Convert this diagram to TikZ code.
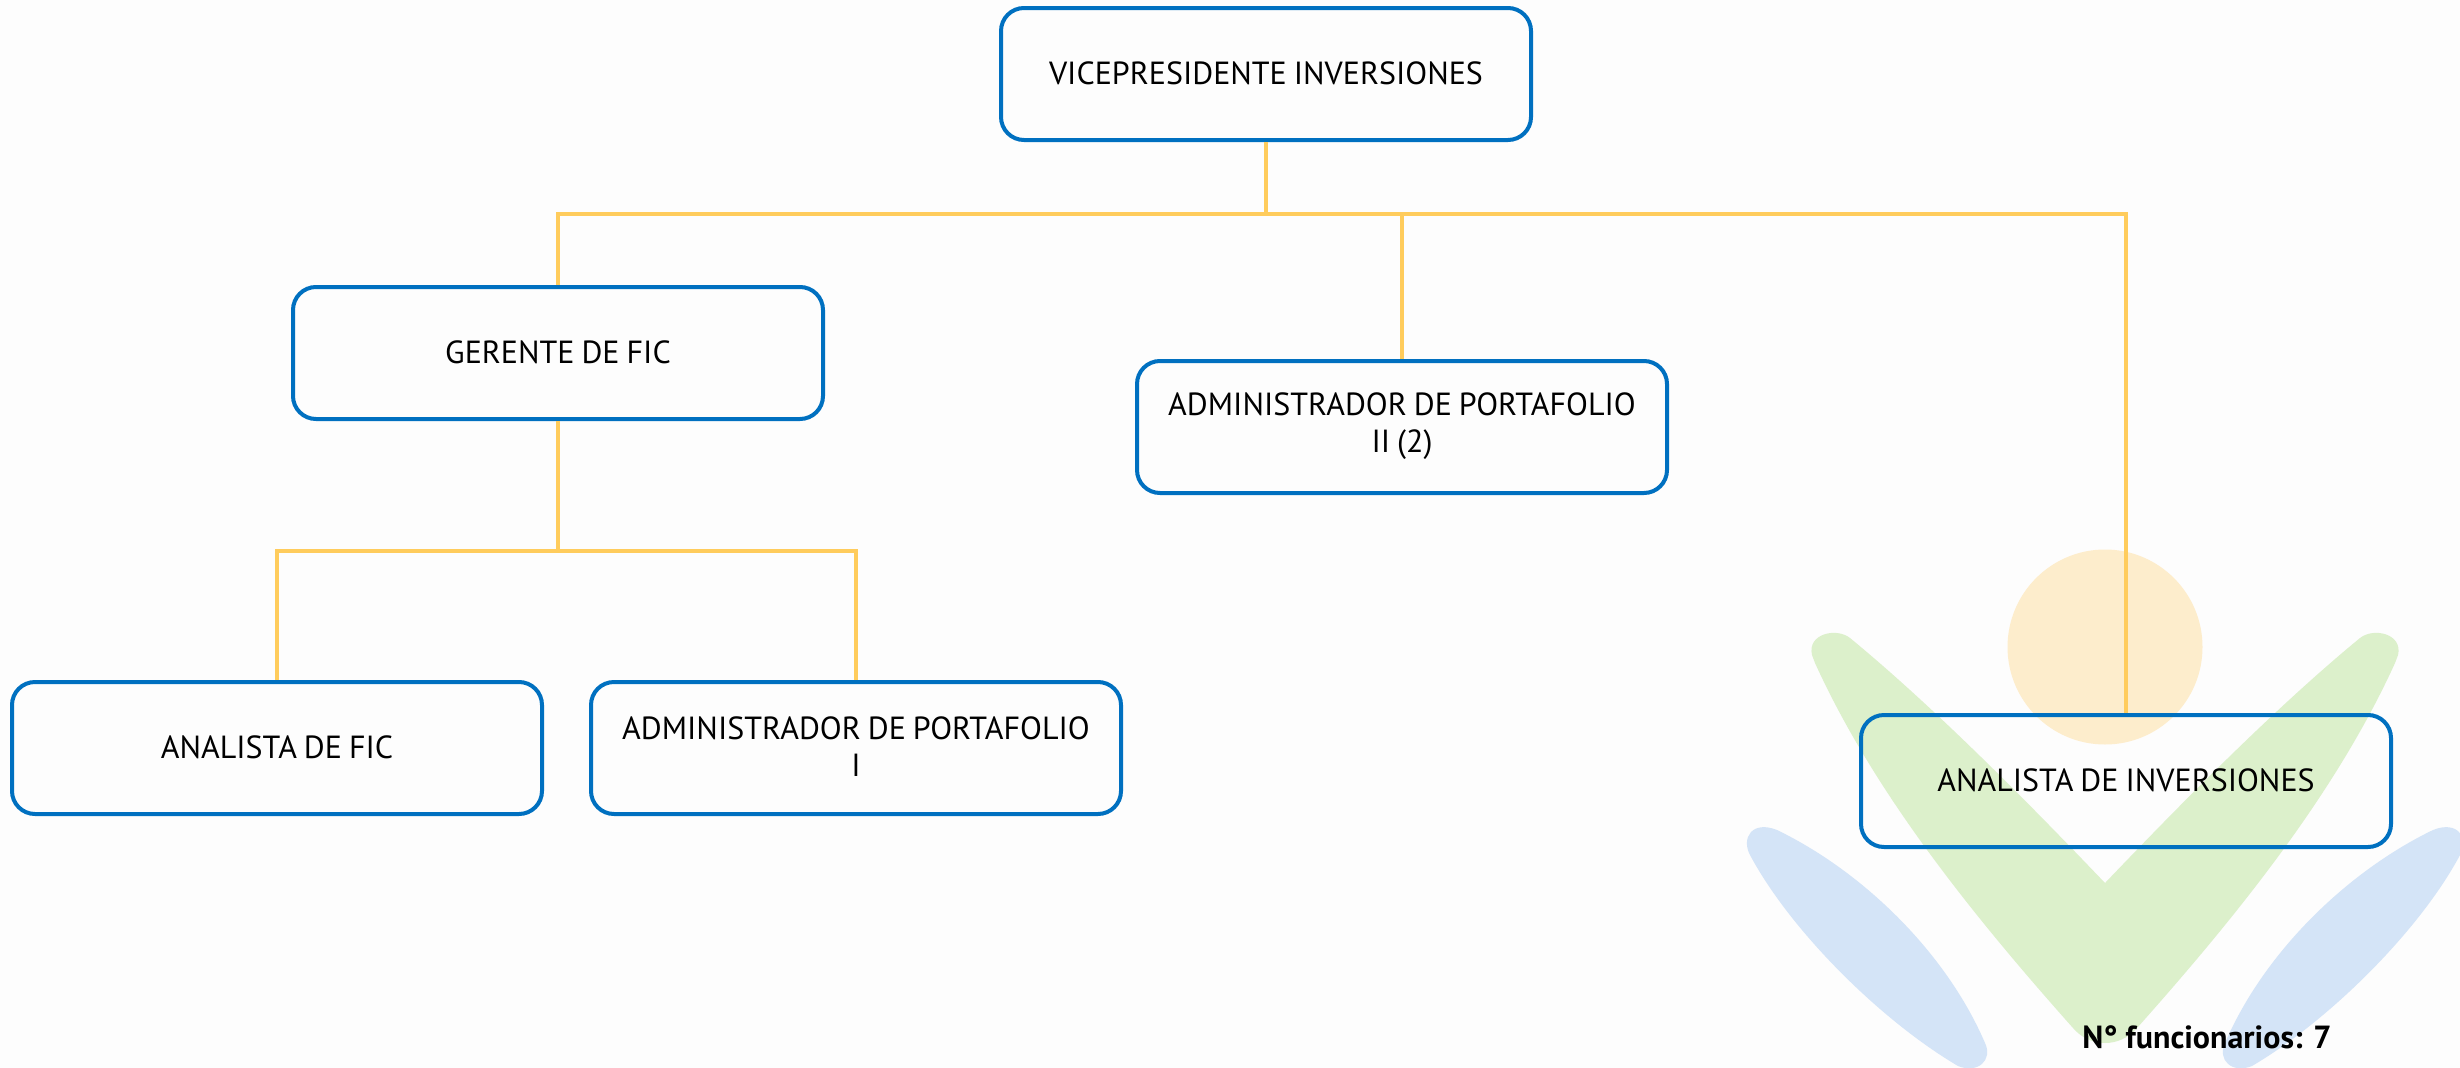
\documentclass[tikz,border=0pt]{standalone}
\usepackage{fontspec}
\setmainfont{PT Sans}
\definecolor{bgc}{HTML}{FDFDFD}
\definecolor{boxc}{HTML}{0070C0}
\definecolor{linec}{HTML}{FFCC5C}
\definecolor{greenc}{HTML}{DCF0CB}
\definecolor{bluec}{HTML}{D4E4F7}
\definecolor{sunc}{HTML}{FDEDCC}
\tikzset{
  rolebox/.style={draw=boxc,line width=4pt,rounded corners=23pt,minimum width=530pt,minimum height=132pt,
    inner sep=0pt,align=center,text width=500pt,font=\fontsize{32}{37}\selectfont,text=black,
    execute at begin node={\spaceskip=7pt\relax},
    execute at end node={\par\vspace{2pt}}},
  conn/.style={draw=linec,line width=4pt},
}
\begin{document}
\begin{tikzpicture}[x=1pt,y=-1pt]
\useasboundingbox (0,0) rectangle (2460,1068);
\fill[bgc] (0,0) rectangle (2460,1068);
\begin{scope}
\clip (0,0) rectangle (2460,1068);
\fill[sunc] (2105,647) circle[radius=97.5pt];
\fill[greenc] (2105,883) .. controls (2040,815) and (1940,712) .. (1850,638)
  .. controls (1836,627) and (1807,634) .. (1812,655) -- (1815,663)
  .. controls (1875,795) and (1976,919) .. (2073,1028)
  .. controls (2090,1048) and (2120,1048) .. (2137,1028)
  .. controls (2234,919) and (2335,795) .. (2395,663) -- (2398,655)
  .. controls (2403,634) and (2374,627) .. (2360,638)
  .. controls (2270,712) and (2170,815) .. (2105,883) -- cycle;
\fill[bluec] (1750,855) .. controls (1741,838) and (1752,820) .. (1777,830)
  .. controls (1860,870) and (1945,950) .. (1985,1043)
  .. controls (1993,1060) and (1978,1074) .. (1958,1066)
  .. controls (1880,1020) and (1790,930) .. (1750,855) -- cycle;
\fill[bluec] (2460,855) .. controls (2469,838) and (2458,820) .. (2433,830)
  .. controls (2350,870) and (2265,950) .. (2225,1043)
  .. controls (2217,1060) and (2232,1074) .. (2252,1066)
  .. controls (2330,1020) and (2420,930) .. (2460,855) -- cycle;
\end{scope}
\node[rolebox] (vp) at (1266,74) {VICEPRESIDENTE INVERSIONES};
\node[rolebox] (ger) at (558,353) {GERENTE DE FIC};
\node[rolebox] (adm2) at (1402,427) {ADMINISTRADOR DE PORTAFOLIO\\II (2)};
\node[rolebox] (afic) at (277,748) {ANALISTA DE FIC};
\node[rolebox] (adm1) at (856,748) {ADMINISTRADOR DE PORTAFOLIO\\I};
\node[rolebox] (ainv) at (2126,781) {ANALISTA DE INVERSIONES};
\node[font=\bfseries\fontsize{32}{36}\selectfont,anchor=center,inner sep=0pt] (count) at (2207,1037) {N° funcionarios: 7};
\coordinate (j1) at (1266,214);
\coordinate (j2) at (558,551);
\draw[conn] (vp.south) -- (j1);
\draw[conn] (j1) -| (ger.north);
\draw[conn] (j1) -| (adm2.north);
\draw[conn] (j1) -| (ainv.north);
\draw[conn] (ger.south) -- (j2);
\draw[conn] (j2) -| (afic.north);
\draw[conn] (j2) -| (adm1.north);
\end{tikzpicture}
\end{document}
